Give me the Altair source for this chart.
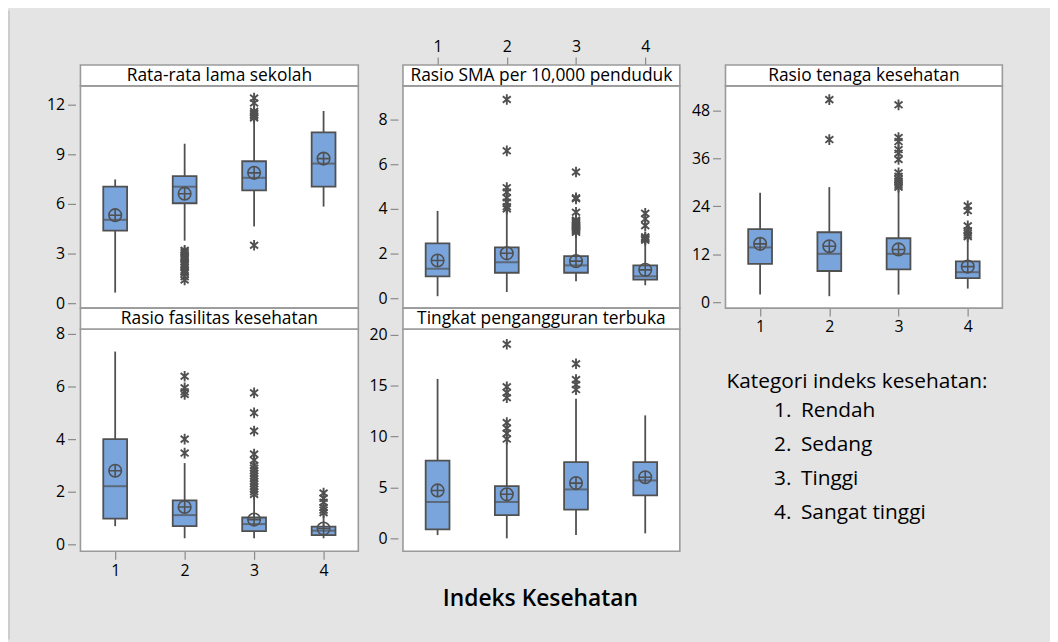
import altair as alt
import pandas as pd

# ---------------- data ----------------
CATS = [1, 2, 3, 4]
CAT_NUMS = ["1.", "2.", "3.", "4."]
CAT_NAMES = ["Rendah", "Sedang", "Tinggi", "Sangat tinggi"]
LEGEND_TITLE = "Kategori indeks kesehatan:"
X_TITLE = "Indeks Kesehatan"

P1_TITLE = "Rata-rata lama sekolah"
P1_WLO = [0.64, 3.78, 4.64, 5.84]
P1_Q1 = [4.38, 6.04, 6.82, 7.04]
P1_MED = [5.04, 7.04, 7.58, 8.44]
P1_Q3 = [7.04, 7.68, 8.58, 10.32]
P1_WHI = [7.48, 9.64, 11.08, 11.62]
P1_MEAN = [5.32, 6.62, 7.88, 8.74]
P1_OUT = [[],
          [3.2, 3.1, 3.0, 2.9, 2.8, 2.7, 2.5, 2.4, 2.3, 2.2, 2.0, 1.9, 1.8, 1.6, 1.4],
          [12.4, 12.1, 11.6, 11.5, 11.4, 11.3, 11.2, 3.5],
          []]

P2_TITLE = "Rasio SMA per 10,000 penduduk"
P2_WLO = [0.09, 0.28, 0.76, 0.58]
P2_Q1 = [0.98, 1.14, 1.14, 0.83]
P2_MED = [1.32, 1.61, 1.47, 0.98]
P2_Q3 = [2.46, 2.28, 1.88, 1.47]
P2_WHI = [3.91, 3.95, 2.85, 2.55]
P2_MEAN = [1.69, 2.01, 1.66, 1.27]
P2_OUT = [[],
          [8.9, 6.6, 4.95, 4.75, 4.5, 4.3, 4.1, 4.0],
          [5.65, 4.5, 4.45, 3.85, 3.5, 3.45, 3.4, 3.35, 3.3, 3.25, 3.2, 3.15, 3.1, 3.05, 3.0, 2.95],
          [3.8, 3.55, 3.25, 2.75, 2.7, 2.65, 2.6]]

P3_TITLE = "Rasio tenaga kesehatan"
P3_WLO = [1.9, 1.5, 1.9, 3.4]
P3_Q1 = [9.6, 7.8, 8.2, 6.0]
P3_MED = [13.7, 12.1, 12.1, 7.5]
P3_Q3 = [18.3, 17.5, 16.0, 10.2]
P3_WHI = [27.4, 28.8, 28.0, 15.4]
P3_MEAN = [14.6, 14.0, 13.2, 8.9]
P3_OUT = [[],
          [50.7, 40.7],
          [49.4, 41.2, 40.2, 38.2, 37.3, 35.7, 32.4, 31.5, 30.8, 30.3, 29.8, 29.3, 28.8],
          [24.1, 22.9, 19.1, 17.9, 17.3, 16.8, 16.4]]

P4_TITLE = "Rasio fasilitas kesehatan"
P4_WLO = [0.69, 0.23, 0.23, 0.23]
P4_Q1 = [0.98, 0.69, 0.50, 0.35]
P4_MED = [2.21, 1.11, 0.77, 0.52]
P4_Q3 = [4.0, 1.67, 1.02, 0.67]
P4_WHI = [7.33, 3.09, 1.86, 1.1]
P4_MEAN = [2.8, 1.42, 0.94, 0.6]
P4_OUT = [[],
          [6.39, 5.95, 5.8, 5.7, 4.0, 3.47],
          [5.76, 5.0, 4.31, 3.43, 3.2, 3.0, 2.9, 2.8, 2.7, 2.6, 2.5, 2.4, 2.3, 2.2, 2.1, 2.0, 1.9],
          [1.95, 1.75, 1.6, 1.4, 1.3, 1.2]]

P5_TITLE = "Tingkat pengangguran terbuka"
P5_WLO = [0.32, 0.0, 0.32, 0.49]
P5_Q1 = [0.88, 2.27, 2.82, 4.22]
P5_MED = [3.57, 3.57, 4.8, 5.68]
P5_Q3 = [7.63, 5.13, 7.47, 7.47]
P5_WHI = [15.65, 9.57, 13.7, 12.07]
P5_MEAN = [4.7, 4.32, 5.42, 6.0]
P5_OUT = [[],
          [19.05, 14.87, 14.3, 13.8, 11.36, 10.8, 10.3, 9.74],
          [17.14, 15.58, 15.09, 14.6],
          []]

# ---------------- style / layout ----------------
W, H = 1050, 634
FONT = "Open Sans"
BOX_FILL = "#79a5dc"
DARK = "#505050"
FRAME = "#9a9a9a"
MEAN_SHAPE = "M-1,0A1,1,0,1,1,1,0A1,1,0,1,1,-1,0ZM-1,0L1,0M0,-1L0,1"
STAR_SHAPE = "M0,-1L0,1M-0.75,-0.62L0.75,0.62M-0.75,0.62L0.75,-0.62"


def panel(title, wlo, q1, med, q3, whi, mean, outs, xr, yr, ydom, yticks,
          header, xorient=None, xoffset=0):
    stats = pd.DataFrame(dict(cat=CATS, wlo=wlo, q1=q1, med=med, q3=q3,
                              whi=whi, mean=mean))
    out = pd.DataFrame([(c, v) for c, vals in zip(CATS, outs) for v in vals],
                       columns=["cat", "val"])
    frame = pd.DataFrame(dict(x0=[0.5], x1=[4.5], y0=[ydom[0]], y1=[ydom[1]],
                              xc=[2.5], title=[title]))
    xs = alt.Scale(domain=[0.5, 4.5], range=xr, nice=False, zero=False)
    ys = alt.Scale(domain=ydom, range=yr, nice=False, zero=False)
    if xorient:
        xaxis = alt.Axis(orient=xorient, offset=xoffset, values=CATS, title=None,
                         grid=False, domain=False, format="d", tickSize=8,
                         labelPadding=3)
    else:
        xaxis = None
    yaxis = alt.Axis(orient="left", offset=-xr[0], values=yticks, title=None,
                     grid=False, domain=False, format="d", tickSize=8,
                     labelPadding=3)

    def X(f):
        return alt.X(f, type="quantitative", scale=xs, axis=xaxis)

    def Y(f):
        return alt.Y(f, type="quantitative", scale=ys, axis=yaxis)

    bg = alt.Chart(frame).mark_rect(fill="white", stroke=FRAME, strokeWidth=1.6).encode(
        x=X("x0"), x2="x1", y=Y("y0"), y2="y1")
    hdr = alt.Chart(frame).mark_rect(fill="white", stroke=FRAME, strokeWidth=1.6).encode(
        x=X("x0"), x2="x1", y=alt.value(header[0]), y2=alt.value(header[1]))
    htxt = alt.Chart(frame).mark_text(font=FONT, fontSize=17.5, color="black",
                                      baseline="middle", align="center").encode(
        x=X("xc"), y=alt.value((header[0] + header[1]) / 2 + 0.5), text="title:N")
    whisk = alt.Chart(stats).mark_rule(color=DARK, strokeWidth=1.8).encode(
        x=X("cat"), y=Y("wlo"), y2="whi")
    box = alt.Chart(stats).mark_bar(size=24, orient="vertical", fill=BOX_FILL,
                                    stroke=DARK, strokeWidth=1.8).encode(
        x=X("cat"), y=Y("q1"), y2="q3")
    medt = alt.Chart(stats).mark_tick(orient="horizontal", size=24, thickness=2,
                                      color=DARK).encode(x=X("cat"), y=Y("med"))
    meanp = alt.Chart(stats).mark_point(shape=MEAN_SHAPE, size=160, filled=False,
                                        stroke=DARK, strokeWidth=1.6, opacity=1).encode(
        x=X("cat"), y=Y("mean"))
    outp = alt.Chart(out).mark_point(shape=STAR_SHAPE, size=115, filled=False,
                                     stroke=DARK, strokeWidth=1.9, opacity=1).encode(
        x=X("cat"), y=Y("val"))
    return alt.layer(bg, hdr, htxt, whisk, box, medt, meanp, outp)


ROW1_HDR = (55, 76)
ROW2_HDR = (300, 321)

p1 = panel(P1_TITLE, P1_WLO, P1_Q1, P1_MED, P1_Q3, P1_WHI, P1_MEAN, P1_OUT,
           [68, 358], [300, 76], [-0.3, 13.14], [0, 3, 6, 9, 12], ROW1_HDR)
p2 = panel(P2_TITLE, P2_WLO, P2_Q1, P2_MED, P2_Q3, P2_WHI, P2_MEAN, P2_OUT,
           [393, 682], [300, 76], [-0.444, 9.51], [0, 2, 4, 6, 8], ROW1_HDR,
           xorient="top", xoffset=-55)
p3 = panel(P3_TITLE, P3_WLO, P3_Q1, P3_MED, P3_Q3, P3_WHI, P3_MEAN, P3_OUT,
           [718, 1007], [300, 76], [-1.49, 54.15], [0, 12, 24, 36, 48], ROW1_HDR,
           xorient="bottom", xoffset=-(H - 300))
p4 = panel(P4_TITLE, P4_WLO, P4_Q1, P4_MED, P4_Q3, P4_WHI, P4_MEAN, P4_OUT,
           [68, 358], [545, 321], [-0.264, 8.19], [0, 2, 4, 6, 8], ROW2_HDR,
           xorient="bottom", xoffset=-(H - 545))
p5 = panel(P5_TITLE, P5_WLO, P5_Q1, P5_MED, P5_Q3, P5_WHI, P5_MEAN, P5_OUT,
           [393, 682], [545, 321], [-1.27, 20.55], [0, 5, 10, 15, 20], ROW2_HDR)

# annotations
leg_df = pd.DataFrame(dict(i=list(range(len(CAT_NAMES))), num=CAT_NUMS, name=CAT_NAMES))
leg_y = alt.Y("i:Q", scale=alt.Scale(domain=[0, 3], range=[410, 512.7]), axis=None)
leg_nums = alt.Chart(leg_df).mark_text(font=FONT, fontSize=21, color="black",
                                       align="left", baseline="alphabetic").encode(
    x=alt.value(772), y=leg_y, text="num:N")
leg_names = alt.Chart(leg_df).mark_text(font=FONT, fontSize=21, color="black",
                                        align="left", baseline="alphabetic").encode(
    x=alt.value(799), y=leg_y, text="name:N")
legend = alt.layer(leg_nums, leg_names)

title_df = pd.DataFrame(dict(t=[LEGEND_TITLE], x=[X_TITLE]))
leg_title = alt.Chart(title_df).mark_text(font=FONT, fontSize=21, color="black",
                                          align="left", baseline="alphabetic").encode(
    x=alt.value(724), y=alt.value(380), text="t:N")
xtitle = alt.Chart(title_df).mark_text(font=FONT, fontSize=23, fontWeight=600,
                                       color="black", align="center",
                                       baseline="alphabetic").encode(
    x=alt.value(536.5), y=alt.value(600), text="x:N")
edge = alt.Chart(title_df).mark_rule(color="#cdcdcd", strokeWidth=2).encode(
    x=alt.value(1), y=alt.value(0), y2=alt.value(H))

chart = alt.layer(edge, p1, p2, p3, p4, p5, legend, leg_title, xtitle).resolve_scale(
    x="independent", y="independent"
).properties(
    width=W, height=H, padding=0,
    autosize=alt.AutoSizeParams(type="none"),
).configure(background="#e4e4e4").configure_view(stroke=None).configure_axis(
    labelFont=FONT, labelFontSize=16, labelColor="black", tickColor="#8a8a8a",
    tickWidth=1.2,
)

chart.save("out.html", embed_options={"renderer": "svg", "actions": False})
